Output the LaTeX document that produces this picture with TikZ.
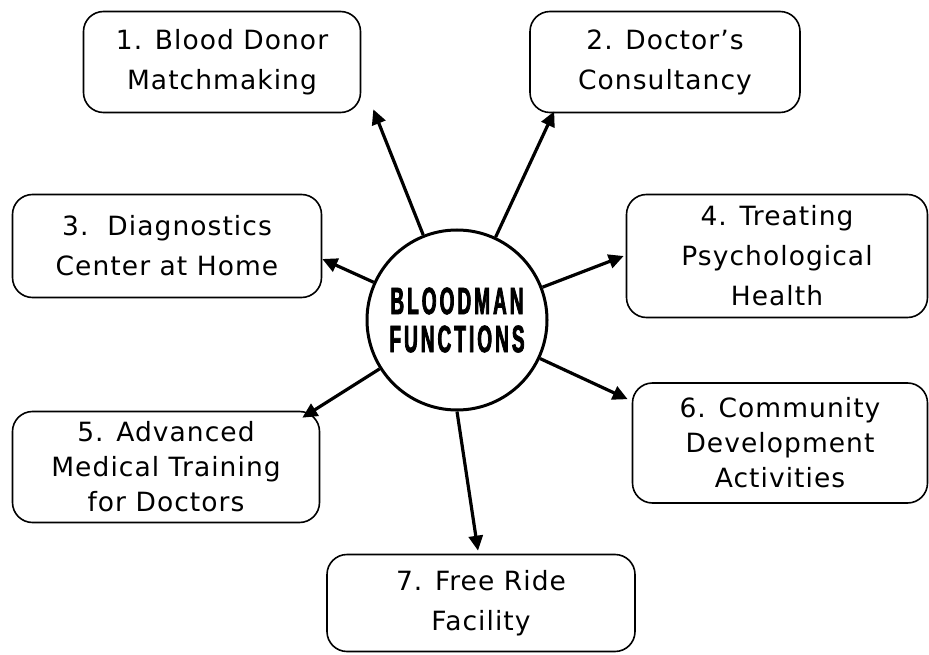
\documentclass[tikz,border=0pt]{standalone}
\usepackage{fontspec}
\setmainfont{DejaVu Sans}[LetterSpace=4]
\newfontfamily\titlefont{Liberation Sans}[FakeStretch=0.5,LetterSpace=8,FakeBold=2]
\usetikzlibrary{arrows.meta}

\begin{document}
\begin{tikzpicture}[x=1pt, y=-1pt,
    box/.style={draw, line width=1.6pt, rounded corners=20pt, align=center,
        font=\fontsize{26.5}{40}\selectfont, inner sep=0pt},
    tight/.style={font=\fontsize{26.5}{35}\selectfont},
    hub/.style={circle, draw, line width=3pt, minimum size=180pt, align=center,
        font=\titlefont\bfseries\fontsize{38}{38}\selectfont, inner sep=0pt},
    arrow/.style={-{Triangle[length=15pt, width=14pt]}, line width=3.2pt}
]
\useasboundingbox (0,0) rectangle (929,655);

% Centre
\node[hub] (c) at (457,320) {BLOODMAN\\FUNCTIONS};

% Functions
\node[box, minimum width=277pt, minimum height=101pt] (b1) at (222,62) {1. Blood Donor\\Matchmaking};
\node[box, minimum width=270pt, minimum height=101pt] (b2) at (665,62) {2. Doctor’s\\Consultancy};
\node[box, minimum width=309pt, minimum height=103pt] (b3) at (167,246) {3.\ \ Diagnostics\\Center at Home};
\node[box, minimum width=301pt, minimum height=123pt] (b4) at (777,256) {4. Treating\\Psychological\\Health};
\node[box, tight, minimum width=307pt, minimum height=111pt] (b5) at (166,467) {5. Advanced\\Medical Training\\for Doctors};
\node[box, tight, minimum width=295pt, minimum height=120pt] (b6) at (780,443) {6. Community\\Development\\Activities};
\node[box, minimum width=308pt, minimum height=97pt] (b7) at (481,603) {7. Free Ride\\Facility};

% Arrows
\draw[arrow] (c) -- ([xshift=12pt, yshift=4pt]b1.south east);
\draw[arrow] (c) -- ([xshift=25pt, yshift=2pt]b2.south west);
\draw[arrow] (c) -- ([yshift=-13pt]b3.east);
\draw[arrow] (c) -- ([xshift=-2pt]b4.west);
\draw[arrow] (c) -- ([xshift=-18pt, yshift=-7pt]b5.north east);
\draw[arrow] (c) -- ([xshift=-4pt, yshift=-17pt]b6.north west);
\draw[arrow] (c.-90) -- ([xshift=-3pt, yshift=3pt]b7.north);

\end{tikzpicture}
\end{document}
